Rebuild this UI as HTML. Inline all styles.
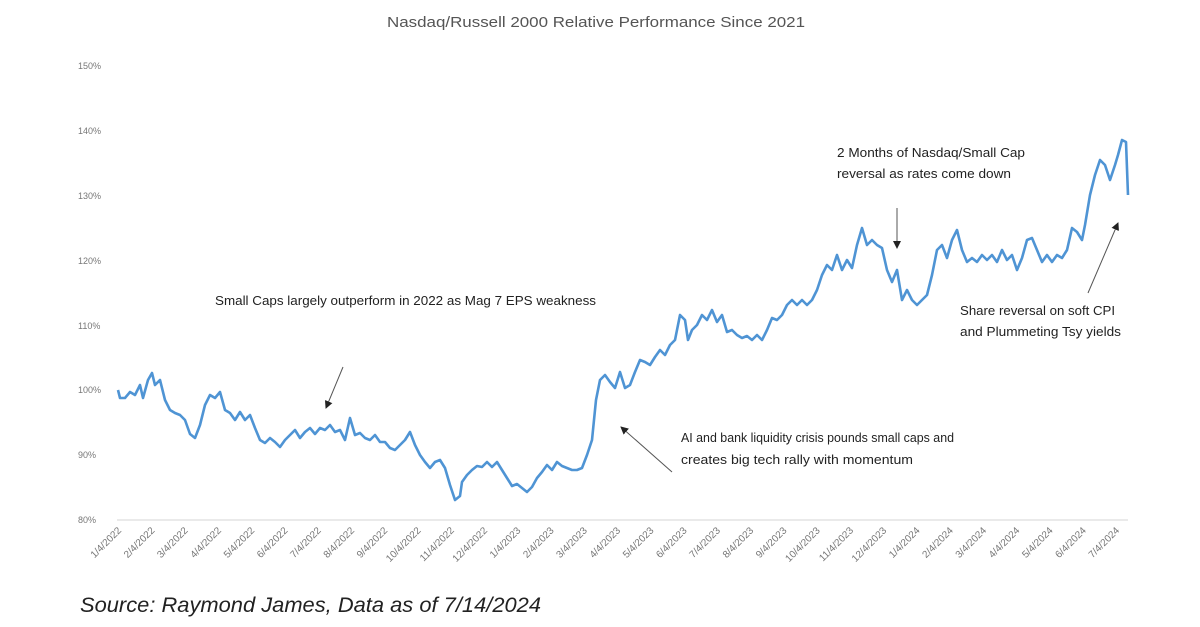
<!DOCTYPE html>
<html><head><meta charset="utf-8"><style>
html,body{margin:0;padding:0;background:#fff;}
svg{display:block;font-family:"Liberation Sans",sans-serif;}
</style></head><body>
<svg width="1200" height="627" viewBox="0 0 1200 627" xmlns="http://www.w3.org/2000/svg">
<defs><marker id="ah" markerWidth="8" markerHeight="8" refX="7" refY="4" orient="auto" markerUnits="userSpaceOnUse"><path d="M0,0 L8,4 L0,8 z" fill="#222"/></marker></defs>
<text x="387" y="27" font-size="15" fill="#555" textLength="418" lengthAdjust="spacingAndGlyphs">Nasdaq/Russell 2000 Relative Performance Since 2021</text>
<g font-size="9" fill="#777">
<text x="78" y="69">150%</text><text x="78" y="134">140%</text><text x="78" y="199">130%</text><text x="78" y="264">120%</text><text x="78" y="329">110%</text><text x="78" y="393">100%</text><text x="78" y="458">90%</text><text x="78" y="523">80%</text>
</g>
<line x1="117" y1="520" x2="1128" y2="520" stroke="#ddd" stroke-width="1.2"/>
<g font-size="10" fill="#777" text-anchor="end" id="xl"></g>
<polyline fill="none" stroke="#4f94d4" stroke-width="2.6" stroke-linejoin="round" points="118,390 120,398 125,398 130,392 135,395 140,385 143,398 148,380 152,373 155,385 160,380 165,400 170,410 175,413 180,415 185,420 190,434 195,438 200,425 205,405 210,395 215,398 220,392 225,410 230,413 235,420 240,412 245,420 250,415 255,428 260,440 265,443 270,438 275,442 280,447 285,440 290,435 295,430 300,438 305,432 310,428 315,434 320,428 325,430 330,425 335,432 340,430 345,440 350,418 355,435 360,433 365,438 370,440 375,435 380,442 385,442 390,448 395,450 400,445 405,440 410,432 415,445 420,455 425,462 430,468 435,462 440,460 445,468 450,485 455,500 460,496 462,482 467,475 472,470 477,466 482,467 487,462 492,467 497,462 502,470 507,478 512,486 517,484 522,488 527,492 532,487 537,478 542,472 547,465 552,470 557,462 562,466 567,468 572,470 577,470 582,468 587,455 592,440 596,400 600,380 605,375 610,382 615,388 620,372 625,388 630,385 635,372 640,360 645,362 650,365 655,357 660,350 665,355 670,345 675,340 680,315 685,320 688,340 692,330 697,325 702,315 707,320 712,310 717,322 722,315 727,332 732,330 737,335 742,338 747,336 752,340 757,335 762,340 767,330 772,318 777,320 782,315 787,305 792,300 797,305 802,300 807,305 812,300 817,290 822,275 827,265 832,270 837,255 842,270 847,260 852,268 857,245 862,228 867,245 872,240 877,245 882,248 887,270 892,282 897,270 902,300 907,290 912,300 917,305 922,300 927,295 932,275 937,250 942,245 947,258 952,240 957,230 962,250 967,262 972,258 977,262 982,255 987,260 992,255 997,262 1002,250 1007,260 1012,255 1017,270 1022,258 1027,240 1032,238 1037,250 1042,262 1047,255 1052,262 1057,255 1062,258 1067,250 1072,228 1077,232 1082,240 1085,225 1090,195 1095,175 1100,160 1105,165 1110,180 1115,165 1118,155 1122,140 1126,142 1128,195"/>
<g font-size="13" fill="#222">
<text x="215" y="305" textLength="381" lengthAdjust="spacingAndGlyphs">Small Caps largely outperform in 2022 as Mag 7 EPS weakness</text>
<text x="681" y="442" textLength="273" lengthAdjust="spacingAndGlyphs">AI and bank liquidity crisis pounds small caps and</text>
<text x="681" y="464" textLength="232" lengthAdjust="spacingAndGlyphs">creates big tech rally with momentum</text>
<text x="837" y="157" textLength="188" lengthAdjust="spacingAndGlyphs">2 Months of Nasdaq/Small Cap</text>
<text x="837" y="178" textLength="174" lengthAdjust="spacingAndGlyphs">reversal as rates come down</text>
<text x="960" y="315" textLength="155" lengthAdjust="spacingAndGlyphs">Share reversal on soft CPI</text>
<text x="960" y="336" textLength="161" lengthAdjust="spacingAndGlyphs">and Plummeting Tsy yields</text>
</g>
<g stroke="#555" stroke-width="1" marker-end="url(#ah)">
<line x1="343" y1="367" x2="326" y2="408"/>
<line x1="672" y1="472" x2="621" y2="427"/>
<line x1="897" y1="208" x2="897" y2="248"/>
<line x1="1088" y1="293" x2="1118" y2="223"/>
</g>
<text x="80" y="612" font-size="21" font-style="italic" fill="#222" textLength="461" lengthAdjust="spacingAndGlyphs">Source: Raymond James, Data as of 7/14/2024</text>
<g font-size="10" fill="#777" text-anchor="end">
<text transform="translate(122,531) rotate(-45)">1/4/2022</text>
<text transform="translate(155.3,531) rotate(-45)">2/4/2022</text>
<text transform="translate(188.5,531) rotate(-45)">3/4/2022</text>
<text transform="translate(221.8,531) rotate(-45)">4/4/2022</text>
<text transform="translate(255.1,531) rotate(-45)">5/4/2022</text>
<text transform="translate(288.3,531) rotate(-45)">6/4/2022</text>
<text transform="translate(321.6,531) rotate(-45)">7/4/2022</text>
<text transform="translate(354.9,531) rotate(-45)">8/4/2022</text>
<text transform="translate(388.1,531) rotate(-45)">9/4/2022</text>
<text transform="translate(421.4,531) rotate(-45)">10/4/2022</text>
<text transform="translate(454.7,531) rotate(-45)">11/4/2022</text>
<text transform="translate(487.9,531) rotate(-45)">12/4/2022</text>
<text transform="translate(521.2,531) rotate(-45)">1/4/2023</text>
<text transform="translate(554.5,531) rotate(-45)">2/4/2023</text>
<text transform="translate(587.7,531) rotate(-45)">3/4/2023</text>
<text transform="translate(621,531) rotate(-45)">4/4/2023</text>
<text transform="translate(654.3,531) rotate(-45)">5/4/2023</text>
<text transform="translate(687.5,531) rotate(-45)">6/4/2023</text>
<text transform="translate(720.8,531) rotate(-45)">7/4/2023</text>
<text transform="translate(754.1,531) rotate(-45)">8/4/2023</text>
<text transform="translate(787.3,531) rotate(-45)">9/4/2023</text>
<text transform="translate(820.6,531) rotate(-45)">10/4/2023</text>
<text transform="translate(853.9,531) rotate(-45)">11/4/2023</text>
<text transform="translate(887.1,531) rotate(-45)">12/4/2023</text>
<text transform="translate(920.4,531) rotate(-45)">1/4/2024</text>
<text transform="translate(953.7,531) rotate(-45)">2/4/2024</text>
<text transform="translate(986.9,531) rotate(-45)">3/4/2024</text>
<text transform="translate(1020.2,531) rotate(-45)">4/4/2024</text>
<text transform="translate(1053.5,531) rotate(-45)">5/4/2024</text>
<text transform="translate(1086.7,531) rotate(-45)">6/4/2024</text>
<text transform="translate(1120,531) rotate(-45)">7/4/2024</text>
</g>
</svg>
</body></html>
